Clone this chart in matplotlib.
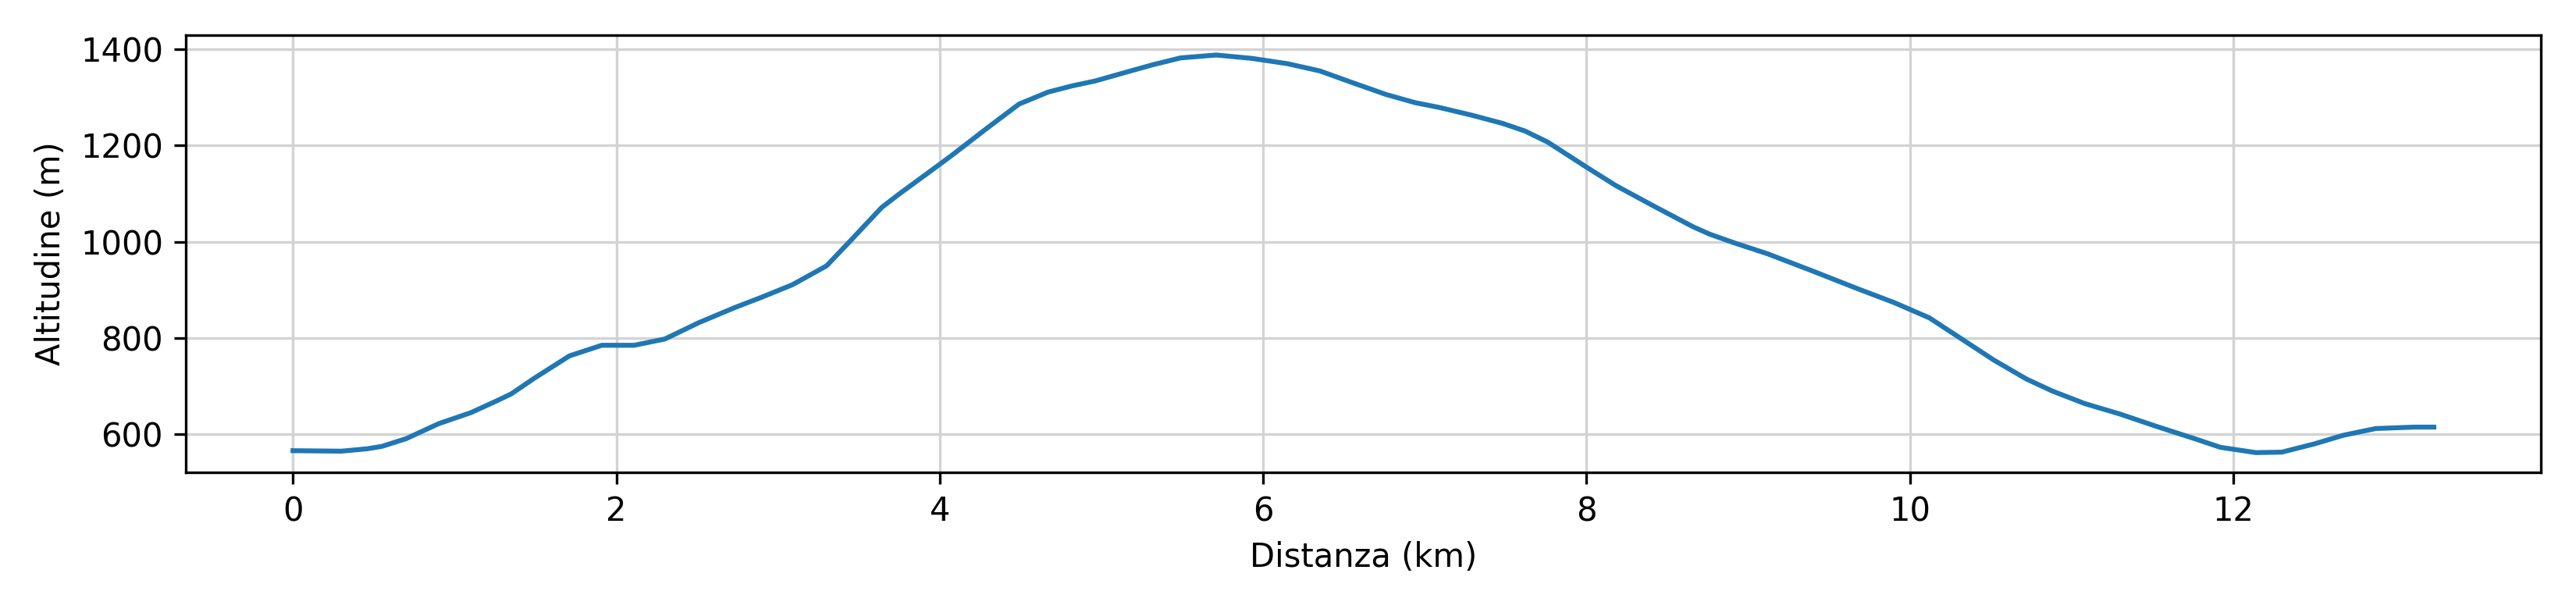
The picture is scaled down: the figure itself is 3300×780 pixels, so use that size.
import matplotlib
matplotlib.use('agg')
import matplotlib.pyplot as plt

# profilo altimetrico
distanza_km = [0.0, 0.3, 0.46, 0.55, 0.7, 0.9, 1.1, 1.25, 1.35, 1.49, 1.71, 1.91, 2.11, 2.3,
               2.51, 2.73, 2.9, 3.09, 3.3, 3.45, 3.64, 3.74, 4.0, 4.08, 4.3, 4.49, 4.67, 4.82,
               4.96, 5.16, 5.32, 5.49, 5.71, 5.93, 6.15, 6.35, 6.54, 6.76, 6.94, 7.09, 7.29,
               7.48, 7.62, 7.76, 8.0, 8.18, 8.4, 8.66, 8.76, 8.92, 9.12, 9.4, 9.68, 9.9,
               10.12, 10.32, 10.52, 10.72, 10.88, 11.08, 11.3, 11.52, 11.76, 11.92, 12.14,
               12.3, 12.5, 12.68, 12.88, 13.12, 13.24]
altitudine_m = [566, 565, 570, 575, 591, 622, 645, 668, 684, 716, 763, 785, 785, 798,
                832, 863, 885, 911, 950, 1003, 1071, 1097, 1161, 1181, 1238, 1286, 1311, 1324,
                1334, 1353, 1368, 1382, 1388, 1381, 1370, 1355, 1332, 1306, 1289, 1279, 1263,
                1246, 1230, 1207, 1155, 1117, 1077, 1031, 1016, 997, 975, 939, 902, 874,
                842, 798, 754, 715, 690, 664, 642, 617, 591, 573, 562,
                563, 580, 598, 612, 615, 615]

fig, ax = plt.subplots(figsize=(11, 2.6))
ax.plot(distanza_km, altitudine_m)
ax.set_xlabel('Distanza (km)')
ax.set_ylabel('Altitudine (m)')
ax.grid(True, color='lightgray')
plt.tight_layout()
plt.savefig('out.png', dpi=300)
